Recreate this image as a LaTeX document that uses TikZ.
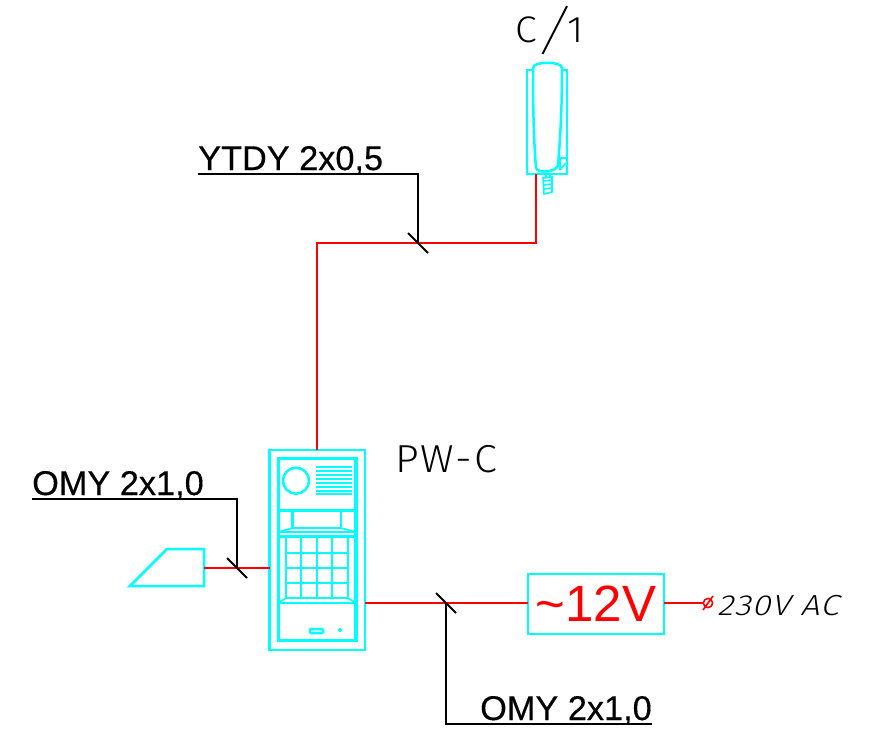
\documentclass[tikz,border=0pt]{standalone}
\usepackage{fontspec}
\setmainfont{Liberation Sans}
\newfontfamily\labfont[FakeBold=0.35]{Liberation Sans}
\newfontfamily\cadfont[LetterSpace=5,FakeStretch=1.06]{Fira Sans Light}
\newfontfamily\cadslash[FakeSlant=0.25]{Fira Sans ExtraLight}
\newfontfamily\cadital[LetterSpace=4,FakeStretch=1.16,FakeSlant=0.25]{Fira Sans Light}
\begin{document}
\begin{tikzpicture}[x=1pt,y=-1pt,line join=miter,
  cy/.style={draw=cyanc,line width=2.5pt},
  cyt/.style={draw=cyanc,line width=1.6pt},
  wire/.style={draw=redc,line width=2.3pt},
  lead/.style={draw=black,line width=2pt},
  lab/.style={anchor=base west,inner sep=0pt,font=\labfont\fontsize{34.3}{36}\selectfont,text=black},
  cad/.style={anchor=base west,inner sep=0pt,text=black}]
\definecolor{cyanc}{RGB}{0,255,255}
\definecolor{redc}{RGB}{255,0,0}
\useasboundingbox (0,0) rectangle (878,732);
% handset
\coordinate (handsetS) at (536,174);
\draw[cy] (527,70) rectangle (567,174);
\draw[cy,fill=white] (536,168) .. controls (533,130) and (533,90) .. (533,68) .. controls (533,61) and (562,61) .. (562,68) .. controls (562,100) and (561,130) .. (558,165) .. controls (557,172) and (538,174) .. (536,168);
\draw[cyt] (560,158) -- (566,158) (560,158) -- (560,170) (560,170) -- (566,163);
\draw[cyt] (546,174) -- (546,178) (550,174) -- (550,178) (543,178) -- (552,177) -- (552,192) -- (544,194) -- cycle
 (543,181) -- (552,180) (543,185) -- (552,184) (543,189) -- (552,188);
% panel
\coordinate (panelN) at (317,450);
\coordinate (panelW) at (270,568);
\coordinate (panelE) at (365,603);
\draw[cy] (269.5,450) rectangle (365,650);
\draw[draw=cyanc,line width=3.4pt] (278.3,458.7) rectangle (355.9,640.3);
\draw[cy] (296,480.7) circle (13);
\foreach \y in {467,471,475,479,483,487,491,494}{\draw[cy] (316,\y) -- (352,\y);}
\draw[cy] (278,510.7) -- (356,510.7) (292.7,511) -- (292.7,528) (341,511) -- (341,528) (292.7,528) -- (341,528);
\draw[cyt] (278,532) -- (292.7,528) (341,528) -- (356,532) (278,532) -- (356,532);
\draw[cy] (278,536.7) -- (356,536.7);
\foreach \x in {286,301,317,332,348}{\draw[cy] (\x,537) -- (\x,598);}
\foreach \y in {553,568,583,598}{\draw[cy] (286,\y) -- (348,\y);}
\draw[cyt] (278,603) -- (286,598) (348,598) -- (356,603);
\draw[cy] (278,603) -- (356,603);
\draw[cy,rounded corners=1pt] (310,629) rectangle (323,633);
\fill[cyanc] (340,630) circle (2);
% camera
\coordinate (camE) at (204,568);
\draw[cy] (130,586) -- (167,549) -- (204,549) -- (204,586) -- cycle;
% power supply
\node[cy,minimum width=136pt,minimum height=60pt,inner sep=0pt,outer sep=0pt,text=redc,font=\fontsize{51}{53}\selectfont] (psu) at (596,604) {\char"7E 12V};
% mains terminal
\coordinate (mains) at (703,603);
\draw[draw=redc,line width=1.6pt] (708,603) circle (4.6) (703,610) -- (713,596);
% wires
\coordinate (bend1) at (317,243);
\coordinate (bend2) at (536,243);
\draw[wire] (panelN) -- (bend1) -- (bend2) -- (handsetS);
\draw[wire] (camE) -- (panelW);
\draw[wire] (panelE) -- (psu.west |- panelE);
\draw[wire] (psu.east |- mains) -- (mains);
% leaders
\coordinate (t1) at (418,243);
\coordinate (t2) at (237,568);
\coordinate (t3) at (446,603);
\draw[lead] (198,174) -- (418,174) -- (t1);
\draw[lead] (32,499) -- (237,499) -- (t2);
\draw[lead] (652,724) -- (446,724) -- (t3);
\draw[lead] (408,233) -- (428,253);
\draw[lead] (227,558) -- (247,578);
\draw[lead] (436,593) -- (456,613);
% labels
\node[lab] (l1) at (198,170) {YTDY 2x0,5};
\node[lab] (l2) at (32,495) {OMY 2x1,0};
\node[lab] (l3) at (480,720) {OMY 2x1,0};
\node[cad,font=\cadfont\fontsize{37}{39}\selectfont] (l4) at (515,42) {C\raisebox{-7pt}{\cadslash\fontsize{54}{56}\selectfont /}\kern3pt 1};
\node[cad,font=\cadfont\fontsize{39}{41}\selectfont] (l5) at (395,472) {PW-C};
\node[cad,font=\cadital\fontsize{29}{31}\selectfont] (l6) at (717,615) {230V AC};
\end{tikzpicture}
\end{document}
